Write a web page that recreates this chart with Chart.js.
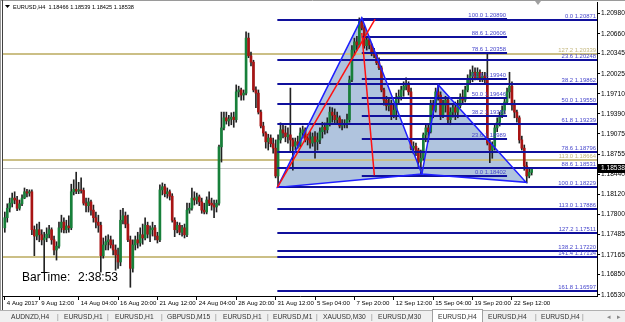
<!DOCTYPE html>
<html>
<head>
<meta charset="utf-8">
<script src="https://cdn.jsdelivr.net/npm/chart.js@4.4.0/dist/chart.umd.min.js"></script>
<style>
  html, body { margin: 0; padding: 0; background: #fff; }
  #wrap { position: relative; width: 625px; height: 322px; overflow: hidden; font-family: "Liberation Sans", Arial, sans-serif; }
  #c { position: absolute; left: 0; top: 0; }
  #tabs { position: absolute; left: 0; top: 310px; width: 625px; height: 12px; background: #f0f0f0; border-top: 1px solid #b0b0b0; box-sizing: border-box; font-size: 6.7px; color: #333; }
  .tab { position: absolute; top: 1px; line-height: 10px; white-space: nowrap; }
  .sep { position: absolute; top: 1px; line-height: 10px; color: #888; }
  .active { position: absolute; top: -2px; height: 13px; background: #fff; border: 1px solid #a0a0a0; border-bottom: none; box-sizing: border-box; }
</style>
</head>
<body>
<div id="wrap">
  <canvas id="c" width="625" height="310"></canvas>
  <div id="tabs"></div>
</div>
<script>
// EURUSD H4 candles, 4 Aug - 25 Sep 2017
const open = [
  1.1759,1.1775,1.1790,1.1798,1.1806,1.1803,1.1790,1.1797,1.1806,1.1816,
  1.1814,1.1816,1.1756,1.1746,1.1756,1.1748,1.1740,1.1743,1.1749,1.1756,
  1.1740,1.1724,1.1730,1.1759,1.1768,1.1756,1.1762,1.1759,1.1816,1.1820,
  1.1817,1.1819,1.1818,1.1798,1.1794,1.1800,1.1787,1.1775,1.1768,1.1763,
  1.1715,1.1732,1.1737,1.1740,1.1732,1.1724,1.1716,1.1705,1.1771,1.1778,
  1.1765,1.1740,1.1695,1.1732,1.1740,1.1735,1.1748,1.1743,1.1763,1.1749,
  1.1756,1.1759,1.1746,1.1740,1.1819,1.1824,1.1813,1.1816,1.1809,1.1771,
  1.1756,1.1763,1.1752,1.1759,1.1748,1.1787,1.1790,1.1806,1.1803,1.1808,
  1.1800,1.1787,1.1784,1.1803,1.1798,1.1795,1.1792,1.1798,1.1887,1.1917,
  1.1933,1.1928,1.1931,1.1934,1.1930,1.1974,1.1977,1.1969,1.1972,1.2059,
  1.2031,1.2021,1.1977,1.1972,1.1942,1.1920,1.1909,1.1895,1.1901,1.1892,
  1.1885,1.1841,1.1898,1.1914,1.1909,1.1903,1.1906,1.1898,1.1888,1.1895,
  1.1890,1.1909,1.1914,1.1901,1.1898,1.1893,1.1903,1.1895,1.1898,1.1911,
  1.1918,1.1914,1.1925,1.1942,1.1937,1.1930,1.1933,1.1920,1.1923,1.1922,
  1.1930,1.1993,1.2040,1.2053,1.2048,1.2085,1.2075,1.2047,1.2056,1.2048,
  1.2037,1.2032,1.2020,1.2012,1.1977,1.1961,1.1952,1.1956,1.1937,1.1945,
  1.1964,1.1967,1.1977,1.1983,1.1986,1.1974,1.1885,1.1888,1.1882,1.1863,
  1.1869,1.1906,1.1917,1.1911,1.1953,1.1945,1.1974,1.1969,1.1937,1.1953,
  1.1961,1.1930,1.1942,1.1949,1.1942,1.1952,1.1966,1.1961,1.1977,1.1993,
  1.1999,1.2005,1.1996,1.2005,1.1993,1.1999,1.1993,1.1893,1.1882,1.1888,
  1.1917,1.1926,1.1936,1.1945,1.1958,1.1974,1.1983,1.1953,1.1942,1.1933,
  1.1898,1.1885,1.1857,1.1841,1.18466
];
const high = [
  1.1784,1.1797,1.1806,1.1814,1.1816,1.1809,1.1803,1.1811,1.1822,1.1820,
  1.1819,1.1819,1.1762,1.1765,1.1768,1.1756,1.1752,1.1759,1.1763,1.1759,
  1.1746,1.1737,1.1768,1.1779,1.1775,1.1771,1.1778,1.1828,1.1835,1.1847,
  1.1831,1.1838,1.1822,1.1806,1.1806,1.1803,1.1795,1.1784,1.1779,1.1768,
  1.1743,1.1746,1.1748,1.1746,1.1740,1.1732,1.1727,1.1787,1.1790,1.1784,
  1.1779,1.1746,1.1740,1.1746,1.1752,1.1759,1.1765,1.1775,1.1768,1.1762,
  1.1768,1.1763,1.1752,1.1827,1.1830,1.1828,1.1822,1.1819,1.1813,1.1775,
  1.1768,1.1767,1.1763,1.1765,1.1798,1.1798,1.1822,1.1816,1.1814,1.1811,
  1.1806,1.1798,1.1808,1.1816,1.1806,1.1803,1.1803,1.1890,1.1942,1.1942,
  1.1942,1.1937,1.1941,1.1942,1.1985,1.1983,1.1980,1.1977,1.2069,1.2067,
  1.2037,1.2024,1.1982,1.1977,1.1945,1.1926,1.1911,1.1907,1.1906,1.1901,
  1.1898,1.1906,1.1925,1.1923,1.1920,1.1917,1.1980,1.1901,1.1901,1.1904,
  1.1917,1.1920,1.1917,1.1907,1.1911,1.1909,1.1911,1.1909,1.1917,1.1926,
  1.1925,1.1933,1.1950,1.1949,1.1947,1.1942,1.1936,1.1930,1.1930,1.1939,
  1.1999,1.2047,1.2059,1.2062,1.2091,1.2091,1.2080,1.2062,1.2062,1.2050,
  1.2043,1.2034,1.2028,1.2015,1.1980,1.1967,1.1964,1.1961,1.1955,1.1972,
  1.1977,1.1983,1.1990,1.1996,1.1990,1.1980,1.1895,1.1893,1.1885,1.1882,
  1.1909,1.1922,1.1923,1.1961,1.1961,1.1980,1.1985,1.1974,1.1961,1.1967,
  1.1964,1.1949,1.1955,1.1958,1.1961,1.1971,1.1977,1.1983,1.2001,1.2009,
  1.2015,1.2012,1.2012,1.2009,1.2005,1.2005,1.2036,1.1898,1.1895,1.1922,
  1.1933,1.1942,1.1952,1.1964,1.1980,1.2005,1.1990,1.1961,1.1945,1.1936,
  1.1904,1.1890,1.1863,1.1854,1.18539
];
const low = [
  1.1752,1.1768,1.1784,1.1792,1.1797,1.1786,1.1787,1.1794,1.1805,1.1808,
  1.1809,1.1748,1.1715,1.1740,1.1737,1.1732,1.1688,1.1737,1.1743,1.1733,
  1.1716,1.1708,1.1727,1.1752,1.1751,1.1751,1.1752,1.1756,1.1811,1.1813,
  1.1813,1.1814,1.1795,1.1784,1.1784,1.1779,1.1768,1.1759,1.1752,1.1689,
  1.1711,1.1724,1.1724,1.1727,1.1716,1.1692,1.1695,1.1699,1.1765,1.1759,
  1.1737,1.1665,1.1689,1.1724,1.1727,1.1730,1.1733,1.1740,1.1743,1.1737,
  1.1746,1.1740,1.1735,1.1737,1.1811,1.1808,1.1806,1.1803,1.1768,1.1745,
  1.1751,1.1748,1.1746,1.1743,1.1745,1.1782,1.1787,1.1795,1.1797,1.1794,
  1.1782,1.1781,1.1781,1.1794,1.1787,1.1775,1.1784,1.1795,1.1863,1.1914,
  1.1923,1.1920,1.1922,1.1918,1.1926,1.1966,1.1961,1.1961,1.1969,1.2028,
  1.2015,1.1974,1.1949,1.1939,1.1917,1.1904,1.1885,1.1882,1.1887,1.1877,
  1.1838,1.18229,1.1893,1.1901,1.1895,1.1893,1.1879,1.1850,1.1882,1.1885,
  1.1887,1.1901,1.1895,1.1890,1.1885,1.1888,1.1869,1.1882,1.1892,1.1901,
  1.1907,1.1909,1.1920,1.1926,1.1923,1.1922,1.1917,1.1914,1.1917,1.1917,
  1.1926,1.1990,1.2032,1.2040,1.2045,1.2072,1.2043,1.2040,1.2042,1.2031,
  1.2028,1.2017,1.2009,1.1974,1.1953,1.1945,1.1944,1.1930,1.1933,1.1930,
  1.1955,1.1961,1.1967,1.1977,1.1969,1.1882,1.1876,1.1873,1.1855,1.1840,
  1.1866,1.1895,1.1895,1.1909,1.1933,1.1942,1.1961,1.1930,1.1933,1.1942,
  1.1925,1.1922,1.1934,1.1930,1.1933,1.1949,1.1956,1.1958,1.1974,1.1986,
  1.1990,1.1993,1.1993,1.1990,1.1990,1.1986,1.1890,1.1862,1.1869,1.1882,
  1.1911,1.1920,1.1933,1.1939,1.1955,1.1964,1.1945,1.1933,1.1926,1.1893,
  1.1882,1.1850,1.1830,1.1838,1.18425
];
const close = [
  1.1775,1.1790,1.1798,1.1806,1.1803,1.1790,1.1797,1.1806,1.1816,1.1814,
  1.1816,1.1756,1.1746,1.1756,1.1748,1.1740,1.1743,1.1749,1.1756,1.1740,
  1.1724,1.1730,1.1759,1.1768,1.1756,1.1762,1.1759,1.1816,1.1820,1.1817,
  1.1819,1.1818,1.1798,1.1794,1.1800,1.1787,1.1775,1.1768,1.1763,1.1715,
  1.1732,1.1737,1.1740,1.1732,1.1724,1.1716,1.1705,1.1771,1.1778,1.1765,
  1.1740,1.1695,1.1732,1.1740,1.1735,1.1748,1.1743,1.1763,1.1749,1.1756,
  1.1759,1.1746,1.1740,1.1819,1.1824,1.1813,1.1816,1.1809,1.1771,1.1756,
  1.1763,1.1752,1.1759,1.1748,1.1787,1.1790,1.1806,1.1803,1.1808,1.1800,
  1.1787,1.1784,1.1803,1.1798,1.1795,1.1792,1.1798,1.1887,1.1917,1.1933,
  1.1928,1.1931,1.1934,1.1930,1.1974,1.1977,1.1969,1.1972,1.2059,1.2031,
  1.2021,1.1977,1.1972,1.1942,1.1920,1.1909,1.1895,1.1901,1.1892,1.1885,
  1.1841,1.1898,1.1914,1.1909,1.1903,1.1906,1.1898,1.1888,1.1895,1.1890,
  1.1909,1.1914,1.1901,1.1898,1.1893,1.1903,1.1895,1.1898,1.1911,1.1918,
  1.1914,1.1925,1.1942,1.1937,1.1930,1.1933,1.1920,1.1923,1.1922,1.1930,
  1.1993,1.2040,1.2053,1.2048,1.2085,1.2075,1.2047,1.2056,1.2048,1.2037,
  1.2032,1.2020,1.2012,1.1977,1.1961,1.1952,1.1956,1.1937,1.1945,1.1964,
  1.1967,1.1977,1.1983,1.1986,1.1974,1.1885,1.1888,1.1882,1.1863,1.1869,
  1.1906,1.1917,1.1911,1.1953,1.1945,1.1974,1.1969,1.1937,1.1953,1.1961,
  1.1930,1.1942,1.1949,1.1942,1.1952,1.1966,1.1961,1.1977,1.1993,1.1999,
  1.2005,1.1996,1.2005,1.1993,1.1999,1.1993,1.1893,1.1882,1.1888,1.1917,
  1.1926,1.1936,1.1945,1.1958,1.1974,1.1983,1.1953,1.1942,1.1933,1.1898,
  1.1885,1.1857,1.1841,1.1847,1.18538
];

// time axis: bar index of each label and its text
const timeTickIdx = [0, 14, 30, 46, 62, 78, 94, 110, 126, 142, 158, 174, 190, 206];
const timeTickText = ['4 Aug 2017', '9 Aug 12:00', '14 Aug 04:00', '16 Aug 20:00', '21 Aug 12:00',
  '24 Aug 04:00', '28 Aug 20:00', '31 Aug 12:00', '5 Sep 04:00', '7 Sep 20:00',
  '12 Sep 12:00', '15 Sep 04:00', '19 Sep 20:00', '22 Sep 12:00'];

// price axis labels
const priceTicks = [1.20980, 1.20660, 1.20345, 1.20025, 1.19710, 1.19390, 1.19075, 1.18755,
  1.18440, 1.18120, 1.17800, 1.17485, 1.17165, 1.16850, 1.16530];
const priceTickText = ['1.20980', '1.20660', '1.20345', '1.20025', '1.19710', '1.19390', '1.19075', '1.18755',
  '1.18440', '1.18120', '1.17800', '1.17485', '1.17165', '1.16850', '1.16530'];

// fibo X->A (right side, runs to the edge)
const rightFibLevels = [0, 23.6, 38.2, 50, 61.8, 78.6, 88.6, 100, 113, 127.2, 138.2, 141.4, 161.8];
const rightFibPrices = [1.20871, 1.20248, 1.19862, 1.19550, 1.19239, 1.18796, 1.18531, 1.18229,
  1.17886, 1.17511, 1.17220, 1.17134, 1.16597];
// fibo A->B (left, short)
const leftFibLevels = [100, 88.6, 78.6, 61.8, 50, 38.2, 23.6, 0];
const leftFibPrices = [1.20890, 1.20606, 1.20358, 1.19940, 1.19646, 1.19351, 1.18989, 1.18402];
// khaki expansion lines
const khakiLevels = [127.2, 113.0, null];
const khakiPrices = [1.20339, 1.18664, 1.17125];

// XABCD pattern points (bar index, price)
const patternIdx = [110.7, 145, 169.4, 176.1, 211.7];
const patternPrice = [1.18229, 1.2091, 1.1844, 1.1985, 1.1831];
// red trend lines
const redIdx = [[110.7, 150.4], [145, 150.1]];
const redPrice = [[1.18229, 1.2089], [1.2067, 1.1842]];

const bidPrice = close[close.length - 1];

const tabNames = ['AUDNZD,H4', 'EURUSD,H1', 'EURUSD,H1', 'GBPUSD,M15', 'EURUSD,H1', 'EURUSD,M1',
  'XAUUSD,M30', 'EURUSD,M30', 'EURUSD,H4', 'EURUSD,H4', 'EURUSD,H4'];

// ---- tabs strip
const tabLeft = [11, 64, 115, 167, 223, 273, 323, 378, 438, 488, 541];
const sepLeft = [57, 107, 161, 215, 267, 316, 371, 535, 582];
const tabs = document.getElementById('tabs');
const act = document.createElement('div');
act.className = 'active';
act.style.left = '432px';
act.style.width = '51px';
tabs.appendChild(act);
tabNames.forEach((t, i) => {
  const d = document.createElement('div');
  d.className = 'tab';
  d.style.left = tabLeft[i] + 'px';
  d.textContent = t;
  tabs.appendChild(d);
});
sepLeft.forEach(x => {
  const d = document.createElement('div');
  d.className = 'sep';
  d.style.left = x + 'px';
  d.textContent = '|';
  tabs.appendChild(d);
});
['\u25C2', '\u25B8'].forEach((a, i) => {
  const d = document.createElement('div');
  d.className = 'sep';
  d.style.left = (607 + i * 10) + 'px';
  d.textContent = a;
  tabs.appendChild(d);
});

// ---- candles as floating bars
const FONT = '"Liberation Sans", Arial, sans-serif';
const bars = open.map((_, i) => i);
const wicks = bars.map(i => ({ x: i, y: [low[i], high[i]] }));
const bodies = bars.map(i => ({ x: i, y: [open[i], close[i]] }));
const bodyColors = bars.map(i => close[i] >= open[i] ? '#17803a' : '#a81414');

function fibLabel(level, price) {
  return level.toFixed(1) + ' ' + price.toFixed(5);
}

const mt4Objects = {
  id: 'mt4Objects',
  beforeDraw(chart) {
    const ctx = chart.ctx;
    ctx.save();
    ctx.fillStyle = '#fff';
    ctx.fillRect(0, 0, chart.width, chart.height);
    ctx.strokeStyle = '#9a9a9a';
    ctx.lineWidth = 1;
    ctx.beginPath();
    ctx.moveTo(0.5, 0); ctx.lineTo(0.5, chart.height);
    ctx.moveTo(0, 0.5); ctx.lineTo(chart.width, 0.5);
    ctx.stroke();
    ctx.strokeStyle = '#404040';
    ctx.beginPath();
    ctx.moveTo(2.5, 0); ctx.lineTo(2.5, chart.height);
    ctx.stroke();
    ctx.restore();
  },
  beforeDatasetsDraw(chart) {
    const { ctx, chartArea: a, scales: { x, y } } = chart;
    const X = patternIdx.map(v => x.getPixelForValue(v));
    const Y = patternPrice.map(v => y.getPixelForValue(v));
    ctx.save();
    ctx.beginPath();
    ctx.rect(a.left, a.top, a.right - a.left, a.bottom - a.top);
    ctx.clip();
    // pattern fills
    ctx.fillStyle = '#b0c4de';
    [[0, 1, 2], [2, 3, 4]].forEach(tri => {
      ctx.beginPath();
      tri.forEach((k, j) => j ? ctx.lineTo(X[k], Y[k]) : ctx.moveTo(X[k], Y[k]));
      ctx.closePath();
      ctx.fill();
    });
    // bid line
    ctx.strokeStyle = '#c4c4c4';
    ctx.lineWidth = 1;
    const by = Math.round(y.getPixelForValue(bidPrice)) + 0.5;
    ctx.beginPath();
    ctx.moveTo(a.left, by); ctx.lineTo(a.right, by);
    ctx.stroke();
    // khaki lines
    ctx.strokeStyle = '#cbbf86';
    ctx.lineWidth = 2;
    khakiPrices.forEach(p => {
      const ly = Math.round(y.getPixelForValue(p));
      ctx.beginPath();
      ctx.moveTo(a.left, ly); ctx.lineTo(a.right, ly);
      ctx.stroke();
    });
    ctx.restore();
  },
  afterDatasetsDraw(chart) {
    const { ctx, chartArea: a, scales: { x, y } } = chart;
    ctx.save();
    ctx.beginPath();
    ctx.rect(a.left, a.top, a.right - a.left, a.bottom - a.top);
    ctx.clip();

    // fibo lines
    ctx.strokeStyle = '#10109c';
    ctx.lineWidth = 2;
    const rx0 = x.getPixelForValue(patternIdx[0]);
    rightFibPrices.forEach(p => {
      const ly = Math.round(y.getPixelForValue(p));
      ctx.beginPath();
      ctx.moveTo(rx0, ly); ctx.lineTo(a.right, ly);
      ctx.stroke();
    });
    const lx0 = x.getPixelForValue(patternIdx[1]);
    const lx1 = x.getPixelForValue(204);
    leftFibPrices.forEach(p => {
      const ly = Math.round(y.getPixelForValue(p));
      ctx.beginPath();
      ctx.moveTo(lx0, ly); ctx.lineTo(lx1, ly);
      ctx.stroke();
    });

    // pattern outline
    const X = patternIdx.map(v => x.getPixelForValue(v));
    const Y = patternPrice.map(v => y.getPixelForValue(v));
    ctx.strokeStyle = '#1e1eff';
    ctx.lineWidth = 1.5;
    [[0, 1, 2], [2, 3, 4]].forEach(tri => {
      ctx.beginPath();
      tri.forEach((k, j) => j ? ctx.lineTo(X[k], Y[k]) : ctx.moveTo(X[k], Y[k]));
      ctx.closePath();
      ctx.stroke();
    });

    // red lines
    ctx.strokeStyle = '#ff1010';
    ctx.lineWidth = 1.5;
    redIdx.forEach((seg, k) => {
      ctx.beginPath();
      ctx.moveTo(x.getPixelForValue(seg[0]), y.getPixelForValue(redPrice[k][0]));
      ctx.lineTo(x.getPixelForValue(seg[1]), y.getPixelForValue(redPrice[k][1]));
      ctx.stroke();
    });

    // labels
    ctx.font = '5.9px ' + FONT;
    ctx.textAlign = 'right';
    ctx.textBaseline = 'alphabetic';
    ctx.fillStyle = '#c2b57a';
    khakiPrices.forEach((p, k) => {
      if (khakiLevels[k] === null) return;
      ctx.fillText(fibLabel(khakiLevels[k], p), a.right - 1, Math.round(y.getPixelForValue(p)) - 2);
    });
    ctx.fillStyle = '#4646cc';
    rightFibPrices.forEach((p, k) => {
      ctx.fillText(fibLabel(rightFibLevels[k], p), a.right - 1, Math.round(y.getPixelForValue(p)) - 2);
    });
    leftFibPrices.forEach((p, k) => {
      ctx.fillText(fibLabel(leftFibLevels[k], p), lx1 - 1, Math.round(y.getPixelForValue(p)) - 2);
    });
    ctx.restore();
  },
  afterDraw(chart) {
    const { ctx, chartArea: a, scales: { y } } = chart;
    const last = close.length - 1;
    ctx.save();
    // title
    ctx.fillStyle = '#000';
    ctx.beginPath();
    ctx.moveTo(5, 5); ctx.lineTo(10, 5); ctx.lineTo(7.5, 8);
    ctx.closePath(); ctx.fill();
    ctx.font = '5.6px ' + FONT;
    ctx.textAlign = 'left';
    ctx.textBaseline = 'alphabetic';
    ctx.fillText('EURUSD,H4  ' + [open[last], high[last], low[last], close[last]].map(v => v.toFixed(5)).join(' '), 13, 9);
    // bar timer
    ctx.font = '12px ' + FONT;
    ctx.fillText('BarTime:', 22, 281);
    ctx.fillText('2:38:53', 78, 281);
    // chart shift marker
    ctx.fillStyle = '#a0a0a0';
    ctx.beginPath();
    ctx.moveTo(535, 1); ctx.lineTo(541, 1); ctx.lineTo(538, 5);
    ctx.closePath(); ctx.fill();
    // bid box
    const by = Math.round(y.getPixelForValue(bidPrice));
    ctx.fillStyle = '#000';
    ctx.fillRect(a.right + 1, by - 4, chart.width - a.right - 1, 9);
    ctx.fillStyle = '#fff';
    ctx.font = '6.6px ' + FONT;
    ctx.textBaseline = 'middle';
    ctx.fillText(bidPrice.toFixed(5), a.right + 4, by + 0.5);
    ctx.restore();
  }
};

new Chart(document.getElementById('c'), {
  type: 'bar',
  data: {
    datasets: [
      { label: 'range', data: wicks, backgroundColor: '#222', barThickness: 1, grouped: false, order: 2 },
      { label: 'body', data: bodies, backgroundColor: bodyColors, barThickness: 2, grouped: false, order: 1 }
    ]
  },
  options: {
    responsive: false,
    animation: false,
    devicePixelRatio: 1,
    layout: { padding: { left: 3, top: 2, right: 0, bottom: 0 } },
    plugins: { legend: { display: false }, tooltip: { enabled: false } },
    scales: {
      x: {
        type: 'linear',
        offset: false,
        bounds: 'data',
        min: -0.731,
        max: 240.54,
        afterBuildTicks: s => { s.ticks = timeTickIdx.map(v => ({ value: v })); },
        afterFit: s => { s.height = 14; s.paddingLeft = 0; s.paddingRight = 0; },
        grid: { offset: false, drawOnChartArea: false, drawTicks: true, tickLength: 4, color: '#000' },
        border: { display: true, color: '#000' },
        ticks: {
          align: 'start', labelOffset: 2, padding: 0, autoSkip: false, maxRotation: 0, minRotation: 0,
          color: '#000', font: { family: FONT, size: 6.1 },
          callback: v => timeTickText[timeTickIdx.indexOf(v)]
        }
      },
      y: {
        type: 'linear',
        position: 'right',
        bounds: 'data',
        min: 1.16512,
        max: 1.21161,
        afterBuildTicks: s => { s.ticks = priceTicks.map(v => ({ value: v })); },
        afterFit: s => { s.width = 28; s.paddingTop = 0; s.paddingBottom = 0; },
        grid: { drawOnChartArea: false, drawTicks: true, tickLength: 3, color: '#000' },
        border: { display: true, color: '#000' },
        ticks: {
          padding: 1, color: '#000', font: { family: FONT, size: 6.6 },
          callback: (v, i) => priceTickText[i]
        }
      }
    }
  },
  plugins: [mt4Objects]
});
</script>
</body>
</html>
